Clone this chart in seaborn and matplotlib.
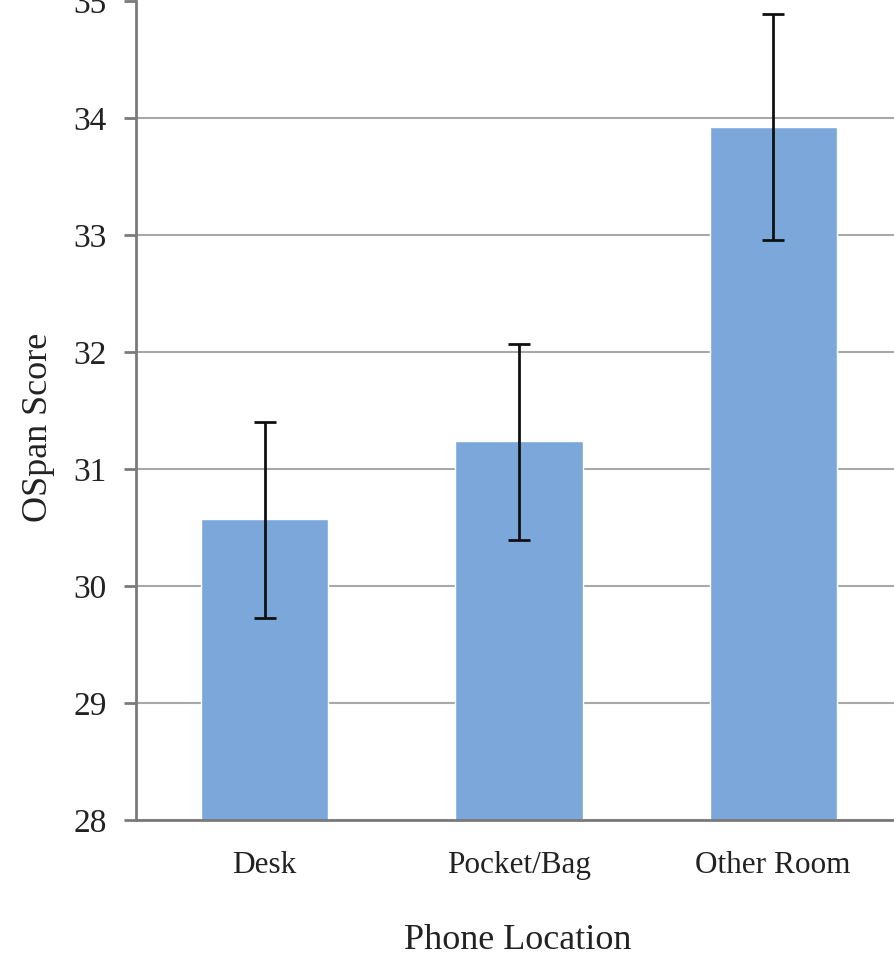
import matplotlib
matplotlib.use("Agg")
import matplotlib.pyplot as plt
import pandas as pd
import seaborn as sns

# values
locations = ["Desk", "Pocket/Bag", "Other Room"]
ospan_mean = [30.57, 31.24, 33.92]
err_upper = [31.40, 32.07, 34.89]
err_lower = [29.73, 30.39, 32.96]
y_ticks = [28, 29, 30, 31, 32, 33, 34, 35]

df = pd.DataFrame({"location": locations, "score": ospan_mean})

sns.set_style("white")
plt.rcParams["font.family"] = ["Liberation Serif", "DejaVu Serif"]

fig = plt.figure(figsize=(8.95, 9.56), dpi=100)
ax = fig.add_axes([136 / 895, 1 - 820 / 956, 1 - 136 / 895, 819 / 956])

sns.barplot(data=df, x="location", y="score", color="#7ba7da", saturation=1,
            width=0.5, errorbar=None, ax=ax, zorder=2)

yerr = [[m - lo for m, lo in zip(ospan_mean, err_lower)],
        [hi - m for m, hi in zip(ospan_mean, err_upper)]]
ax.errorbar(range(len(locations)), ospan_mean, yerr=yerr, fmt="none",
            ecolor="#111111", elinewidth=2, capsize=8, capthick=2, zorder=3)

ax.set_ylim(28, 35)
ax.set_xlim(-0.506, 2.479)
ax.set_yticks(y_ticks)
ax.yaxis.grid(True, color="#a8a8a8", linewidth=1.5, zorder=0)
ax.set_axisbelow(True)
# the top of the picture is cropped, no line shows at 35
ax.get_ygridlines()[-1].set_visible(False)

for side in ["top", "right"]:
    ax.spines[side].set_visible(False)
for side in ["left", "bottom"]:
    ax.spines[side].set_color("#7a7a7a")
    ax.spines[side].set_linewidth(2)

ax.tick_params(axis="y", length=9, width=2, color="#7a7a7a", labelsize=24,
               labelcolor="#222222", pad=12, left=True)
ax.tick_params(axis="x", length=0, labelsize=22.5, labelcolor="#222222", pad=22)

ax.set_xlabel("Phone Location", fontsize=26, color="#222222")
ax.set_ylabel("OSpan Score", fontsize=26, color="#222222")
ax.xaxis.set_label_coords(0.503, -0.127)
ax.yaxis.set_label_coords(-0.107, 0.48)

fig.savefig("out.png", dpi=100)
